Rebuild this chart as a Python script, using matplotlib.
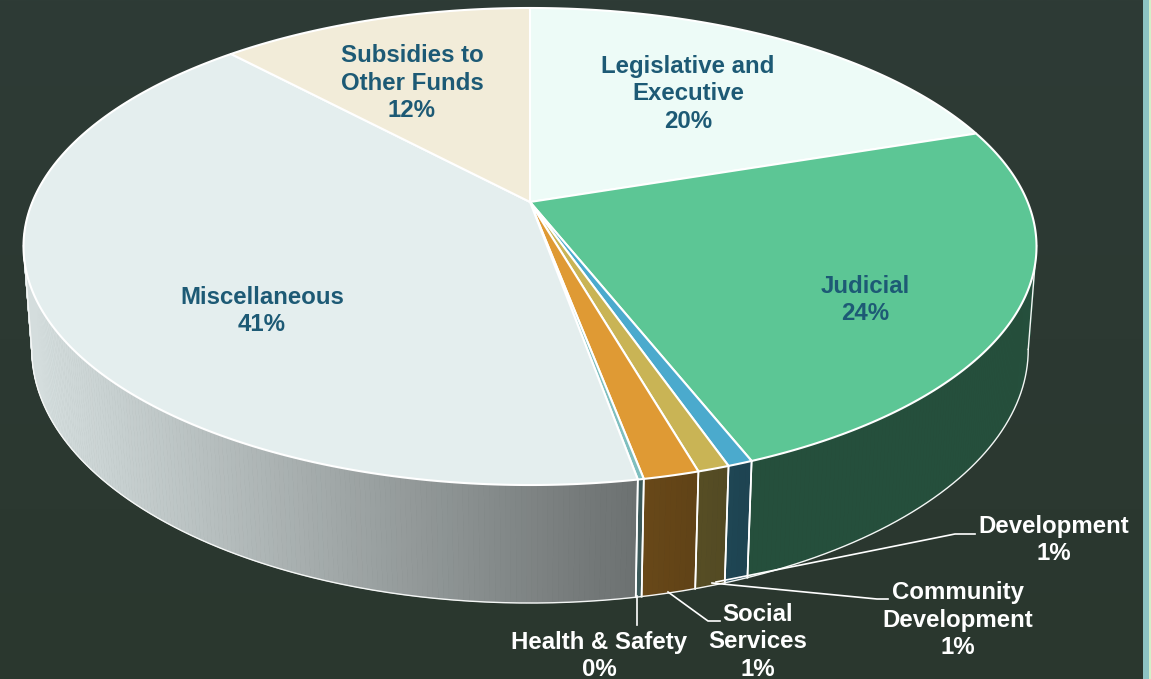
import numpy as np
import matplotlib
matplotlib.use("Agg")
import matplotlib.pyplot as plt
from matplotlib.colors import LinearSegmentedColormap, to_rgb
from matplotlib.patches import Polygon, Rectangle

# spending by function, clockwise from twelve o'clock
names = ["Legislative and\nExecutive", "Judicial", "Development", "Community\nDevelopment",
         "Social\nServices", "Health & Safety", "Miscellaneous", "Subsidies to\nOther Funds"]
shares = [19.9, 24.1, 0.67, 0.85, 1.49, 0.16, 40.87, 11.96]
colors = ["#EDFBF7", "#5CC695", "#4BAACD", "#C9B455", "#DF9A34", "#7FBFBF", "#E4EEEE", "#F2ECD9"]

# label centres in pixels
label_xy = [(688, 94), (865, 300), (1054, 540), (958, 620), (758, 642), (599, 656), (262, 311), (412, 83)]
label_dark = [True, True, False, False, False, False, True, True]

# leader lines for the small slices
leaders = [
    [(716, 582), (955, 534), (975, 534)],
    [(712, 583), (877, 599), (888, 599)],
    [(668, 592), (708, 621), (720, 621)],
    [(637, 596), (637, 625)],
]

BG = "#2D3A34"
TEXT = "#1D5A75"

# perspective of the tilted disc
CX, CY = 530, 202
A, B = 497.6, 230.2
K = 0.1866
DEPTH_W, DEPTH_Y = 0.016, 102.4


def project(theta, h=0.0):
    t = np.radians(theta)
    w = 1 + K * np.cos(t) + DEPTH_W * h
    x = CX + A * np.sin(t) / w
    y = CY + (-B * np.cos(t) + DEPTH_Y * h) / w
    return x, y


def shade(color, x):
    f = np.interp(x, [40, 640, 745, 1040], [0.93, 0.47, 0.40, 0.40])
    return tuple(c * f for c in to_rgb(color))


plt.rcParams["font.family"] = ["Liberation Sans", "DejaVu Sans"]
fig = plt.figure(figsize=(11.51, 6.79), dpi=100, facecolor=BG)
ax = fig.add_axes([0, 0, 1, 1])

# slide background darkens slightly towards the bottom
bg_cmap = LinearSegmentedColormap.from_list("slide", ["#2E3B36", "#2A372E"])
ax.imshow(np.linspace(0, 1, 256).reshape(-1, 1), cmap=bg_cmap, aspect="auto",
          extent=(0, 1151, 679, 0), zorder=0)
ax.set_xlim(0, 1151)
ax.set_ylim(679, 0)
ax.axis("off")

ax.add_patch(Rectangle((1143, 0), 6, 679, color="#8DC3C3", lw=0))
ax.add_patch(Rectangle((1149, 0), 2, 679, color="#D5F0C8", lw=0))

edges = np.concatenate([[0], np.cumsum(shares)]) / sum(shares) * 360

# side wall, strip by strip
for i in range(len(shares)):
    start, end = edges[i], edges[i + 1]
    steps = max(2, int((end - start) / 0.5))
    th = np.linspace(start, end, steps + 1)
    for t0, t1 in zip(th[:-1], th[1:]):
        if np.cos(np.radians((t0 + t1) / 2)) > 0.5:
            continue
        x0, y0 = project(t0)
        x1, y1 = project(t1)
        x2, y2 = project(t1, 1)
        x3, y3 = project(t0, 1)
        c = shade(colors[i], (x0 + x1) / 2)
        ax.add_patch(Polygon([(x0, y0), (x1, y1), (x2, y2), (x3, y3)], closed=True,
                             facecolor=c, edgecolor=c, lw=0.6, zorder=2))
    for t in (start, end):
        if np.cos(np.radians(t)) < 0:
            xa, ya = project(t)
            xb, yb = project(t, 1)
            ax.plot([xa, xb], [ya, yb], color="white", lw=1.2, zorder=3)

# lower rim, only the part that forms the outline, plus the two side tangents
tangent = np.degrees(np.arccos(-K / (1 + DEPTH_W)))
rim = np.linspace(tangent, 360 - tangent, 400)
xr, yr = project(rim, 1)
ax.plot(xr, yr, color="#F4F6F5", lw=1.0, zorder=3)
for t in (tangent, 360 - tangent):
    xa, ya = project(t)
    xb, yb = project(t, 1)
    ax.plot([xa, xb], [ya, yb], color="#F4F6F5", lw=1.0, zorder=3)

# top face
for i in range(len(shares)):
    th = np.linspace(edges[i], edges[i + 1], max(3, int((edges[i + 1] - edges[i]) * 2)))
    x, y = project(th)
    pts = [(CX, CY)] + list(zip(x, y))
    ax.add_patch(Polygon(pts, closed=True, facecolor=colors[i], edgecolor="white",
                         lw=1.5, joinstyle="round", zorder=4))

for pts in leaders:
    xs, ys = zip(*pts)
    ax.plot(xs, ys, color="white", lw=1.2, zorder=5)

for name, share, (lx, ly), dark in zip(names, shares, label_xy, label_dark):
    ax.text(lx, ly, f"{name}\n{share:.0f}%", ha="center", va="center", ma="center",
            fontsize=17.3, fontweight="bold", linespacing=1.24,
            color=TEXT if dark else "white", zorder=6)

fig.savefig("out.png", dpi=100, facecolor=BG)
